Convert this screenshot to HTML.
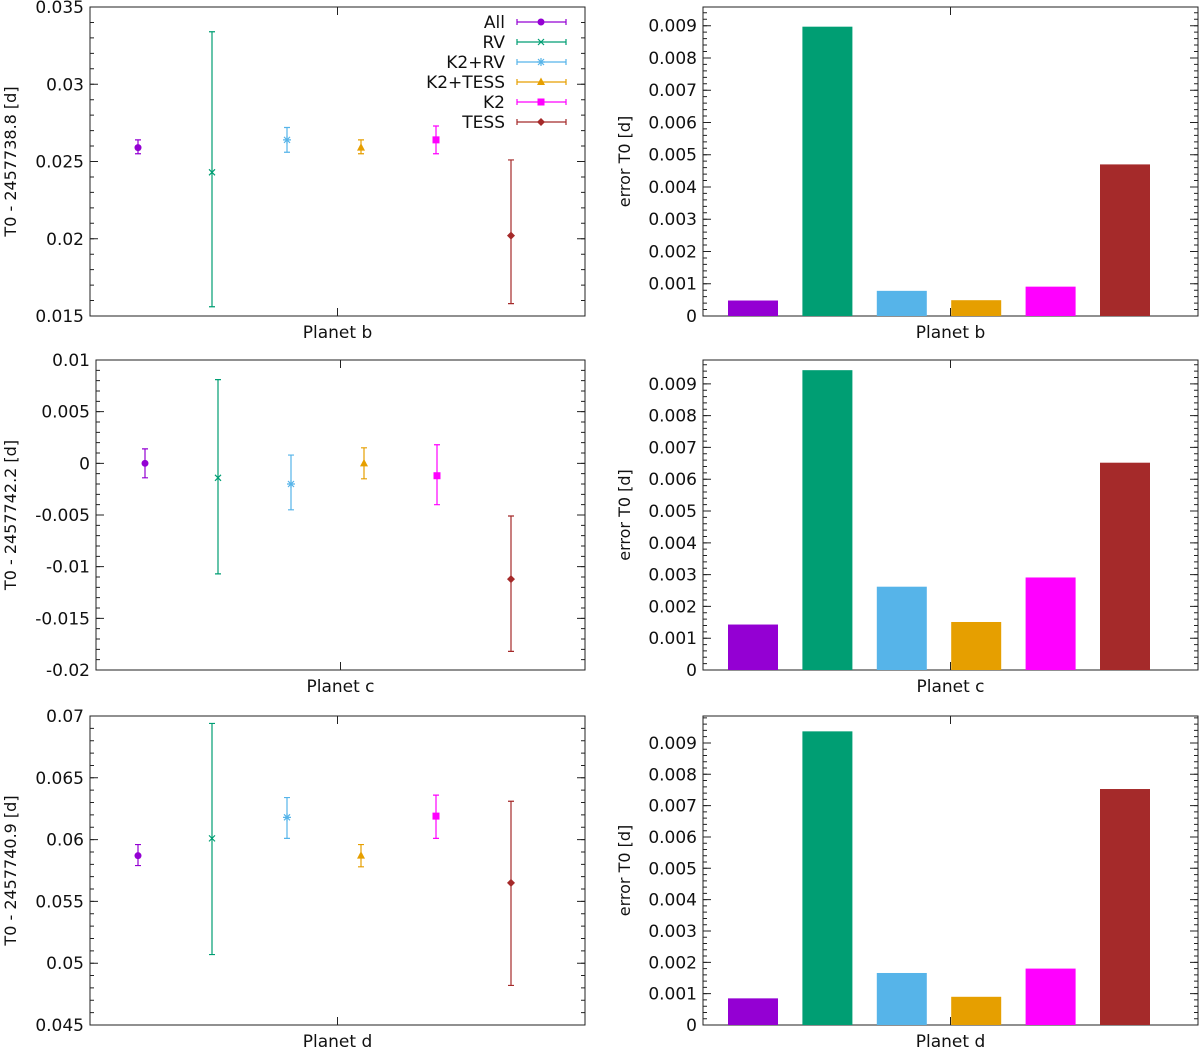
<!DOCTYPE html>
<html><head><meta charset="utf-8"><style>
body{margin:0;background:#fff}
svg{display:block;font-family:"DejaVu Sans","Liberation Sans",sans-serif}
</style></head><body>
<svg id="c" width="1200" height="1047" xmlns="http://www.w3.org/2000/svg"></svg>
<script>
const series = ["All","RV","K2+RV","K2+TESS","K2","TESS"];
const colors = ["#9400d3","#009e73","#56b4e9","#e69f00","#ff00ff","#a52a2a"];
const planets = ["Planet b","Planet c","Planet d"];
const yLabels = ["T0 - 2457738.8 [d]","T0 - 2457742.2 [d]","T0 - 2457740.9 [d]"];
const valB = [0.0259,0.0243,0.0264,0.0259,0.0264,0.0202];
const hiB  = [0.0264,0.0334,0.0272,0.0264,0.0273,0.0251];
const loB  = [0.0255,0.0156,0.0256,0.0255,0.0255,0.0158];
const valC = [0.0,-0.0014,-0.0020,0.0,-0.0012,-0.0112];
const hiC  = [0.0014,0.0081,0.0008,0.0015,0.0018,-0.0051];
const loC  = [-0.0014,-0.0107,-0.0045,-0.0015,-0.0040,-0.0182];
const valD = [0.0587,0.0601,0.0618,0.0587,0.0619,0.0565];
const hiD  = [0.0596,0.0694,0.0634,0.0596,0.0636,0.0631];
const loD  = [0.0579,0.0507,0.0601,0.0578,0.0601,0.0482];
const errB = [0.00048,0.00897,0.00078,0.00049,0.00091,0.0047];
const errC = [0.00143,0.00943,0.00262,0.00151,0.00291,0.00652];
const errD = [0.00085,0.00937,0.00166,0.0009,0.0018,0.00753];
const ticksB = ["0.015","0.02","0.025","0.03","0.035"];
const ticksC = ["-0.02","-0.015","-0.01","-0.005","0","0.005","0.01"];
const ticksD = ["0.045","0.05","0.055","0.06","0.065","0.07"];
const ticksErr = ["0","0.001","0.002","0.003","0.004","0.005","0.006","0.007","0.008","0.009"];

const svg=document.getElementById('c');
const NS="http://www.w3.org/2000/svg";
function mk(tag,a,parent){const e=document.createElementNS(NS,tag);for(const k in a)e.setAttribute(k,a[k]);(parent||svg).appendChild(e);return e;}
function txt(s,a,p){const e=mk('text',a,p);e.textContent=s;return e;}

const rows=[
 {top:7,bot:316,lx:90,vals:valB,hi:hiB,lo:loB,ticks:ticksB,min:0.015,max:0.035,minor:0.001,err:errB,emax:0.00958,xs:[138,212,287,361,436,511]},
 {top:360,bot:670,lx:96,vals:valC,hi:hiC,lo:loC,ticks:ticksC,min:-0.02,max:0.01,minor:0.001,err:errC,emax:0.00975,xs:[145,218,291,364,437,511]},
 {top:716,bot:1025,lx:90,vals:valD,hi:hiD,lo:loD,ticks:ticksD,min:0.045,max:0.07,minor:0.001,err:errD,emax:0.00986,xs:[138,212,287,361,436,511]}
];
const RX=585, BL=703, BR=1198;

function marker(g,i,x,y){
  const c=colors[i];
  if(i===0) mk('circle',{cx:x,cy:y,r:3.5,fill:c},g);
  else if(i===1){mk('path',{d:`M${x-3},${y-3}L${x+3},${y+3}M${x-3},${y+3}L${x+3},${y-3}`,stroke:c,'stroke-width':1.2},g);}
  else if(i===2){mk('path',{d:`M${x-3},${y-3}L${x+3},${y+3}M${x-3},${y+3}L${x+3},${y-3}M${x-4},${y}L${x+4},${y}M${x},${y-4}L${x},${y+4}`,stroke:c,'stroke-width':1.2},g);}
  else if(i===3) mk('path',{d:`M${x},${y-4.5}L${x+4},${y+3}L${x-4},${y+3}Z`,fill:c},g);
  else if(i===4) mk('rect',{x:x-3.5,y:y-3.5,width:7,height:7,fill:c},g);
  else mk('path',{d:`M${x},${y-4}L${x+4},${y}L${x},${y+4}L${x-4},${y}Z`,fill:c},g);
}

rows.forEach((r,ri)=>{
  // left panel
  const g=mk('g',{});
  
  
  const Y=v=>r.bot-(v-r.min)/(r.max-r.min)*(r.bot-r.top);
  mk('rect',{x:r.lx,y:r.top,width:RX-r.lx,height:r.bot-r.top,fill:'none',stroke:'#222','stroke-width':1},g);
  for(let v=r.min;v<=r.max+1e-9;v+=r.minor){const y=Y(v);mk('path',{d:`M${r.lx},${y}h4M${RX},${y}h-4`,stroke:'#222'},g);}
  r.ticks.forEach(t=>{const y=Y(parseFloat(t));mk('path',{d:`M${r.lx},${y}h8M${RX},${y}h-8`,stroke:'#222'},g);
    const l=txt(t,{x:r.lx-6,y:y+6,'text-anchor':'end','font-size':17,fill:'#111'},g);
    });
  const mx=(r.lx+RX)/2;
  mk('path',{d:`M${mx},${r.bot}v-8M${mx},${r.top}v8`,stroke:'#222'},g);
  const xl=txt(planets[ri],{x:mx,y:r.bot+22,'text-anchor':'middle','font-size':17,fill:'#111'},g);
  
  const yl=txt(yLabels[ri],{transform:`translate(16,${(r.top+r.bot)/2}) rotate(-90)`,'text-anchor':'middle','font-size':16,fill:'#111'},g);
  
  series.forEach((s,i)=>{
    const x=r.xs[i];const e=mk('g',{},g);
    
    
    mk('path',{d:`M${x},${Y(r.hi[i])}V${Y(r.lo[i])}M${x-3},${Y(r.hi[i])}h6M${x-3},${Y(r.lo[i])}h6`,stroke:colors[i],'stroke-width':1.2,fill:'none'},e);
    marker(e,i,x,Y(r.vals[i]));
  });
  if(ri===0){
    series.forEach((s,i)=>{
      const y=22+20*i;const e=mk('g',{},g);
      
      
      txt(s,{x:505,y:y+6,'text-anchor':'end','font-size':17,fill:'#111'},e);
      mk('path',{d:`M517,${y}H566M517,${y-3}v6M566,${y-3}v6`,stroke:colors[i],'stroke-width':1.2},e);
      marker(e,i,541,y);
    });
  }
  // right panel
  const h=mk('g',{});
  
  
  const E=v=>r.bot-v/r.emax*(r.bot-r.top);
  mk('rect',{x:BL,y:r.top,width:BR-BL,height:r.bot-r.top,fill:'none',stroke:'#222'},h);
  for(let v=0;v<=r.emax;v+=0.0002){const y=E(v);mk('path',{d:`M${BL},${y}h4M${BR},${y}h-4`,stroke:'#222'},h);}
  ticksErr.forEach(t=>{const y=E(parseFloat(t));mk('path',{d:`M${BL},${y}h8M${BR},${y}h-8`,stroke:'#222'},h);
    const l=txt(t,{x:BL-6,y:y+6,'text-anchor':'end','font-size':17,fill:'#111'},h);
    });
  const m2=(BL+BR)/2;
  mk('path',{d:`M${m2},${r.bot}v-8M${m2},${r.top}v8`,stroke:'#222'},h);
  const xl2=txt(planets[ri],{x:m2,y:r.bot+22,'text-anchor':'middle','font-size':17,fill:'#111'},h);
  
  const yl2=txt('error T0 [d]',{transform:`translate(630,${(r.top+r.bot)/2}) rotate(-90)`,'text-anchor':'middle','font-size':16,fill:'#111'},h);
  
  series.forEach((s,i)=>{
    const cx=753+74.4*i;
    const b=mk('rect',{x:cx-25,y:E(r.err[i]),width:50,height:r.bot-E(r.err[i]),fill:colors[i]},h);
    
    
  });
});
</script>
</body></html>
